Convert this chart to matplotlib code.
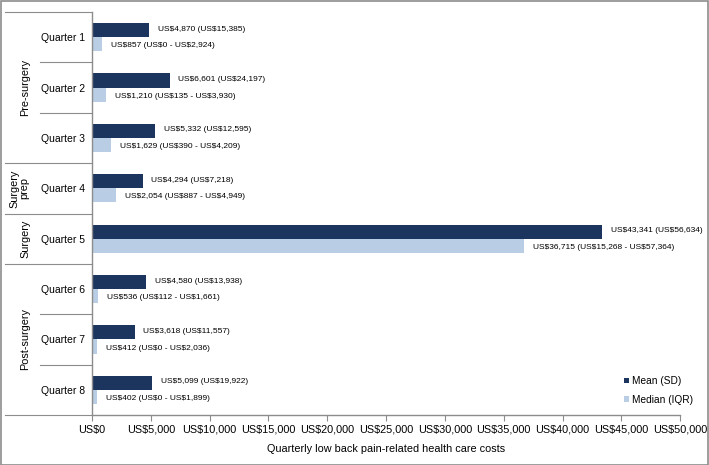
import matplotlib

matplotlib.use("Agg", force=True)
import matplotlib.pyplot as plt
import numpy as np
from matplotlib.transforms import blended_transform_factory

quarters = ["Quarter 1", "Quarter 2", "Quarter 3", "Quarter 4",
            "Quarter 5", "Quarter 6", "Quarter 7", "Quarter 8"]
mean_cost = [4870, 6601, 5332, 4294, 43341, 4580, 3618, 5099]
sd_cost = [15385, 24197, 12595, 7218, 56634, 13938, 11557, 19922]
median_cost = [857, 1210, 1629, 2054, 36715, 536, 412, 402]
iqr_low = [0, 135, 390, 887, 15268, 112, 0, 0]
iqr_high = [2924, 3930, 4209, 4949, 57364, 1661, 2036, 1899]
groups = [("Pre-surgery", 0, 2), ("Surgery\nprep", 3, 3), ("Surgery", 4, 4), ("Post-surgery", 5, 7)]
xticks = list(range(0, 50001, 5000))

plt.rcParams["font.family"] = ["Liberation Sans", "DejaVu Sans"]

DARK = "#1c355e"
LIGHT = "#b9cde5"
GREY = "#8c8c8c"


def usd(v: int) -> str:
    return f"US\\${v:,}"


fig = plt.figure(figsize=(7.09, 4.65), dpi=100)
ax = fig.add_axes([0.1298, 0.1075, 0.8295, 0.8667])

y = np.arange(len(quarters))
h = 0.28
ax.barh(y - h / 2, mean_cost, height=h, color=DARK, label="Mean (SD)")
ax.barh(y + h / 2, median_cost, height=h, color=LIGHT, label="Median (IQR)")

for i in range(len(quarters)):
    ax.text(mean_cost[i] + 750, y[i] - h / 2 - 0.02, f"{usd(mean_cost[i])} ({usd(sd_cost[i])})",
            va="center", ha="left", fontsize=6)
    ax.text(median_cost[i] + 750, y[i] + h / 2 + 0.03,
            f"{usd(median_cost[i])} ({usd(iqr_low[i])} - {usd(iqr_high[i])})",
            va="center", ha="left", fontsize=6)

ax.set_xlim(0, 50000)
ax.set_ylim(len(quarters) - 0.5, -0.5)
ax.set_xticks(xticks)
ax.set_xticklabels([usd(v) for v in xticks], fontsize=7.8)
ax.set_yticks(y)
ax.set_yticklabels(quarters, fontsize=7.5)
ax.tick_params(axis="y", length=0, pad=5)
ax.tick_params(axis="x", length=4, color=GREY, direction="out", pad=3)
for s in ["top", "right"]:
    ax.spines[s].set_visible(False)
for s in ["left", "bottom"]:
    ax.spines[s].set_color(GREY)
    ax.spines[s].set_linewidth(1.0)
ax.set_xlabel("Quarterly low back pain-related health care costs", fontsize=7.8, labelpad=7)

# category and group separators on the left
tr = blended_transform_factory(ax.transAxes, ax.transData)
x_outer = -0.148
x_inner = -0.0884
for name, start, end in groups:
    ax.plot([x_outer, 0], [start - 0.5, start - 0.5], color=GREY, lw=0.8, transform=tr, clip_on=False)
    for k in range(start + 1, end + 1):
        ax.plot([x_inner, 0], [k - 0.5, k - 0.5], color=GREY, lw=0.8, transform=tr, clip_on=False)
    xpos = -0.124 if "\n" in name else -0.113
    ax.text(xpos, (start + end) / 2, name, rotation=90, ha="center", va="center",
            fontsize=7.8, transform=tr, linespacing=1.0)
ax.plot([x_outer, 0], [len(quarters) - 0.5] * 2, color=GREY, lw=0.8, transform=tr, clip_on=False)

fig.legend(loc="upper left", bbox_to_anchor=(624 / 709, 1 - 376 / 465), frameon=False, fontsize=7.3,
           handlelength=0.5, handleheight=0.5, handletextpad=0.25, labelspacing=0.85,
           borderaxespad=0, borderpad=0)

fig.patches.append(plt.Rectangle((0.001, 0.001), 0.997, 0.996, transform=fig.transFigure,
                                 fill=False, edgecolor=GREY, lw=1.2))
fig.savefig("out.png", dpi=100)
